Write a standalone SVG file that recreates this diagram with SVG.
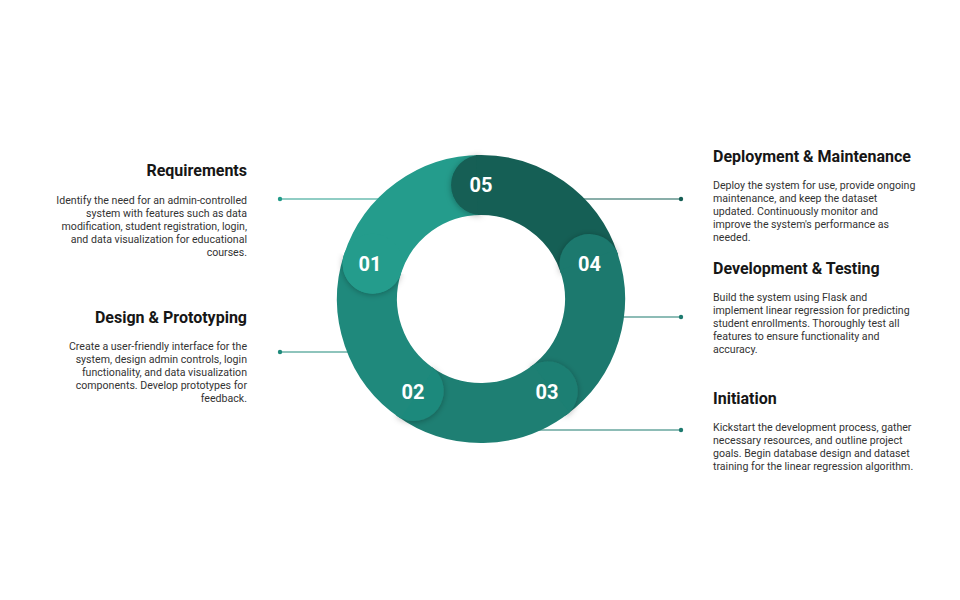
<svg xmlns="http://www.w3.org/2000/svg" width="960" height="600" viewBox="0 0 960 600">
  <style>
    .head { font-family: Roboto, "Liberation Sans", sans-serif; font-size: 16px; font-weight: 700; fill: #161616; }
    .body { font-family: Roboto, "Liberation Sans", sans-serif; font-size: 10.6px; fill: #333333; }
    .num { font-family: Roboto, "Liberation Sans", sans-serif; font-size: 20px; font-weight: 700; fill: #ffffff; text-anchor: middle; }
    .arc { fill: none; stroke-width: 60; stroke-linecap: butt; }
    .cap { filter: url(#capShadow); }
    .link { stroke-width: 1.2; fill: none; }
    .left { text-anchor: end; }
  </style>
  <defs>
    <filter id="capShadow" x="-60%" y="-60%" width="220%" height="220%">
      <feDropShadow dx="0" dy="1" stdDeviation="3" flood-color="#000" flood-opacity="0.3"/>
    </filter>
    <!-- half-plane behind the radial line at 198 deg, keeps the 01 head shadow off its own arc -->
    <clipPath id="behind01">
      <polygon points="481,299 100.6,175.4 -23,555.8 357.4,679.4"/>
    </clipPath>
  </defs>

  <rect width="960" height="600" fill="#ffffff"/>

  <!-- connectors: leader lines running under the ring -->
  <g id="connectors">
    <line class="link" x1="280" y1="199" x2="400" y2="199" stroke="#229b89"/>
    <circle cx="280" cy="199" r="2.2" fill="#229b89"/>
    <line class="link" x1="280" y1="352" x2="372" y2="352" stroke="#1e8a7b"/>
    <circle cx="280" cy="352" r="2.2" fill="#1e8a7b"/>
    <line class="link" x1="565" y1="199" x2="681" y2="199" stroke="#155e54"/>
    <circle cx="681" cy="199" r="2.2" fill="#155e54"/>
    <line class="link" x1="600" y1="317" x2="681" y2="317" stroke="#1d7a6f"/>
    <circle cx="681" cy="317" r="2.2" fill="#1d7a6f"/>
    <line class="link" x1="520" y1="430" x2="681" y2="430" stroke="#1d7a6f"/>
    <circle cx="681" cy="430" r="2.2" fill="#1d7a6f"/>
  </g>

  <!-- ring: five arcs, each with a rounded head; centre (481,299), mid radius 114 -->
  <g id="ring">
    <path id="seg01-body" class="arc" stroke="#249c8c" d="M 372.58 263.77 A 114 114 0 0 1 481 185"/>
    <g id="step05">
      <path class="cap" fill="#155f55" d="M 481 155 A 30 30 0 0 0 481 215 Z"/>
      <path class="arc" stroke="#155f55" d="M 477.02 185.07 A 114 114 0 0 1 589.42 263.77"/>
      <text class="num" x="481" y="192">05</text>
    </g>
    <g id="step04">
      <path class="cap" fill="#1c796e" d="M 617.95 254.50 A 30 30 0 0 0 560.89 273.04 Z"/>
      <path class="arc" stroke="#1c796e" d="M 588.12 260.01 A 114 114 0 0 1 548.01 391.23"/>
      <text class="num" x="589.4" y="271">04</text>
    </g>
    <g id="step03">
      <path class="cap" fill="#1e7f73" d="M 565.64 415.50 A 30 30 0 0 0 530.38 366.96 Z"/>
      <path class="arc" stroke="#1e7f73" d="M 551.19 388.83 A 114 114 0 0 1 413.99 391.23"/>
      <text class="num" x="547" y="398.5">03</text>
    </g>
    <g id="step02">
      <path class="cap" fill="#1f897c" d="M 396.36 415.50 A 30 30 0 0 0 431.62 366.96 Z"/>
      <path class="arc" stroke="#1f897c" d="M 417.25 393.51 A 114 114 0 0 1 372.58 263.77"/>
      <text class="num" x="413" y="398.5">02</text>
    </g>
    <g id="step01">
      <g clip-path="url(#behind01)">
        <path class="cap" fill="#249c8c" d="M 344.05 254.50 A 30 30 0 0 0 401.11 273.04 Z"/>
      </g>
      <circle cx="372.58" cy="263.77" r="30" fill="#249c8c"/>
      <text class="num" x="370" y="271">01</text>
    </g>
  </g>

  <!-- left descriptions -->
  <g id="requirements">
    <text class="head left" x="247" y="176">Requirements</text>
    <text class="body left" x="247" y="203.5">Identify the need for an admin-controlled</text>
    <text class="body left" x="247" y="216.5">system with features such as data</text>
    <text class="body left" x="247" y="229.5">modification, student registration, login,</text>
    <text class="body left" x="247" y="242.5">and data visualization for educational</text>
    <text class="body left" x="247" y="255.5">courses.</text>
  </g>
  <g id="design">
    <text class="head left" x="247" y="322.5">Design &amp; Prototyping</text>
    <text class="body left" x="247" y="349.5">Create a user-friendly interface for the</text>
    <text class="body left" x="247" y="362.5">system, design admin controls, login</text>
    <text class="body left" x="247" y="375.5">functionality, and data visualization</text>
    <text class="body left" x="247" y="388.5">components. Develop prototypes for</text>
    <text class="body left" x="247" y="401.5">feedback.</text>
  </g>

  <!-- right descriptions -->
  <g id="deployment">
    <text class="head" x="713" y="161.5">Deployment &amp; Maintenance</text>
    <text class="body" x="713" y="188.5">Deploy the system for use, provide ongoing</text>
    <text class="body" x="713" y="201.5">maintenance, and keep the dataset</text>
    <text class="body" x="713" y="214.5">updated. Continuously monitor and</text>
    <text class="body" x="713" y="227.5">improve the system's performance as</text>
    <text class="body" x="713" y="240.5">needed.</text>
  </g>
  <g id="development">
    <text class="head" x="713" y="273.5">Development &amp; Testing</text>
    <text class="body" x="713" y="300.5">Build the system using Flask and</text>
    <text class="body" x="713" y="313.5">implement linear regression for predicting</text>
    <text class="body" x="713" y="326.5">student enrollments. Thoroughly test all</text>
    <text class="body" x="713" y="339.5">features to ensure functionality and</text>
    <text class="body" x="713" y="352.5">accuracy.</text>
  </g>
  <g id="initiation">
    <text class="head" x="713" y="403.5">Initiation</text>
    <text class="body" x="713" y="430.5">Kickstart the development process, gather</text>
    <text class="body" x="713" y="443.5">necessary resources, and outline project</text>
    <text class="body" x="713" y="456.5">goals. Begin database design and dataset</text>
    <text class="body" x="713" y="469.5">training for the linear regression algorithm.</text>
  </g>
</svg>
